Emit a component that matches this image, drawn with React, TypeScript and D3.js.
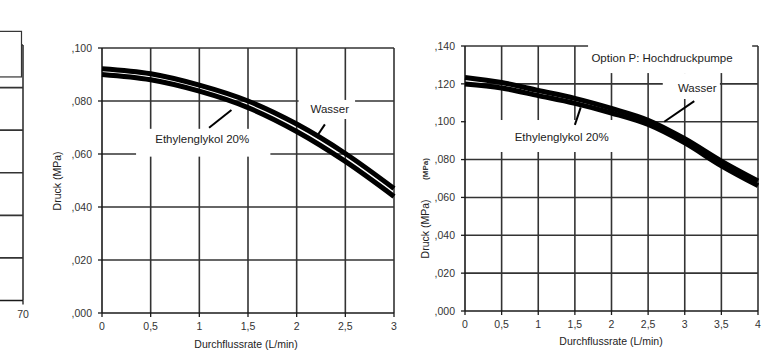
import { useEffect, useRef } from 'react'
import * as d3 from 'd3'

// --- middle chart (standard pump) ---
const flowMid = [0, 0.5, 1, 1.5, 2, 2.5, 3]
const wasserMid = [0.0922, 0.0903, 0.086, 0.08, 0.0713, 0.0602, 0.047]
const glykolMid = [0.09, 0.088, 0.0837, 0.0775, 0.0685, 0.0572, 0.044]
const xTicksMid = [0, 0.5, 1, 1.5, 2, 2.5, 3]
const yTicksMid = [0, 0.02, 0.04, 0.06, 0.08, 0.1]

// --- right chart (option P: high pressure pump) ---
const flowRight = [0, 0.5, 1, 1.5, 2, 2.5, 3, 3.5, 4]
const wasserRight = [0.1234, 0.1207, 0.1165, 0.1123, 0.107, 0.1008, 0.091, 0.0792, 0.0687]
const glykolRight = [0.1199, 0.1178, 0.1138, 0.1097, 0.1046, 0.0985, 0.0888, 0.0767, 0.0662]
const xTicksRight = [0, 0.5, 1, 1.5, 2, 2.5, 3, 3.5, 4]
const yTicksRight = [0, 0.02, 0.04, 0.06, 0.08, 0.1, 0.12, 0.14]

// --- left chart (cut off, only its right edge is visible) ---
const xTicksLeft = [70]
const yTicksLeft = [0, 1, 2, 3, 4, 5, 6]

const GRID = '#333'
const INK = '#1a1a1a'
const FONT = '"Liberation Sans", Arial, sans-serif'

type Box = { x0: number; x1: number; y0: number; y1: number; stroke?: boolean }
type Note = { text: string; x: number; y: number }
type Pointer = { x1: number; y1: number; x2: number; y2: number }

interface Panel {
  left: number
  right: number
  top: number
  bottom: number
  xDomain: [number, number]
  yDomain: [number, number]
  xTicks: number[]
  yTicks: number[]
  xFormat: (v: number) => string
  yFormat: (v: number) => string
  flows: number[]
  series: number[][]
  boxes: Box[]
  notes: Note[]
  pointers: Pointer[]
  xTitle?: { text: string; x: number; y: number }
  yTitle?: { text: string; x: number; y: number }
}

const fmtX = (v: number) => String(v).replace('.', ',')
const fmtY = (v: number) => v.toFixed(3).replace('0.', ',')

const panels: Panel[] = [
  {
    left: -35, right: 23, top: 45, bottom: 300.5,
    xDomain: [60, 70], yDomain: [0, 6],
    xTicks: xTicksLeft, yTicks: yTicksLeft,
    xFormat: v => String(v), yFormat: () => '',
    flows: [], series: [],
    boxes: [{ x0: 60, x1: 69.74, y0: 5.25, y1: 6.32, stroke: true }],
    notes: [], pointers: []
  },
  {
    left: 102, right: 394, top: 48, bottom: 313,
    xDomain: [0, 3], yDomain: [0, 0.1],
    xTicks: xTicksMid, yTicks: yTicksMid,
    xFormat: fmtX, yFormat: fmtY,
    flows: flowMid, series: [wasserMid, glykolMid],
    boxes: [
      { x0: 0.35, x1: 1.73, y0: 0.059, y1: 0.0695 },
      { x0: 2.02, x1: 2.6, y0: 0.0732, y1: 0.0804 }
    ],
    notes: [
      { text: 'Ethylenglykol 20%', x: 1.03, y: 0.0642 },
      { text: 'Wasser', x: 2.34, y: 0.0756 }
    ],
    pointers: [
      { x1: 1.1, y1: 0.0699, x2: 1.33, y2: 0.0766 },
      { x1: 2.29, y1: 0.0712, x2: 2.21, y2: 0.0668 }
    ],
    xTitle: { text: 'Durchflussrate (L/min)', x: 246, y: 348 },
    yTitle: { text: 'Druck (MPa)', x: 61, y: 181 }
  },
  {
    left: 465, right: 758, top: 46, bottom: 311,
    xDomain: [0, 4], yDomain: [0, 0.14],
    xTicks: xTicksRight, yTicks: yTicksRight,
    xFormat: fmtX, yFormat: fmtY,
    flows: flowRight, series: [wasserRight, glykolRight],
    boxes: [
      { x0: 1.68, x1: 3.92, y0: 0.1257, y1: 0.1432 },
      { x0: 2.7, x1: 3.48, y0: 0.112, y1: 0.1257 },
      { x0: 0.01, x1: 2.39, y0: 0.084, y1: 0.1009 }
    ],
    notes: [
      { text: 'Option P: Hochdruckpumpe', x: 2.69, y: 0.1317 },
      { text: 'Wasser', x: 3.17, y: 0.1159 },
      { text: 'Ethylenglykol 20%', x: 1.32, y: 0.0898 }
    ],
    pointers: [
      { x1: 3.13, y1: 0.1109, x2: 2.72, y2: 0.1 },
      { x1: 1.5, y1: 0.0983, x2: 1.58, y2: 0.1076 }
    ],
    xTitle: { text: 'Durchflussrate (L/min)', x: 611, y: 345 },
    yTitle: { text: 'Druck (MPa)', x: 429, y: 229 }
  }
]

function drawPanel(svg: d3.Selection<SVGSVGElement, unknown, null, undefined>, p: Panel) {
  const x = d3.scaleLinear().domain(p.xDomain).range([p.left, p.right])
  const y = d3.scaleLinear().domain(p.yDomain).range([p.bottom, p.top])
  const g = svg.append('g')

  // grid (top and right frame are the last grid lines)
  g.selectAll('.hgrid')
    .data(p.yTicks.slice(1))
    .enter()
    .append('line')
    .attr('x1', x(p.xDomain[0]))
    .attr('x2', x(p.xDomain[1]))
    .attr('y1', d => y(d))
    .attr('y2', d => y(d))
    .attr('stroke', GRID)
    .attr('stroke-width', 1.6)

  g.selectAll('.vgrid')
    .data(p.xTicks.slice(1).length ? p.xTicks.slice(1) : p.xTicks)
    .enter()
    .append('line')
    .attr('x1', d => x(d))
    .attr('x2', d => x(d))
    .attr('y1', y(p.yDomain[0]))
    .attr('y2', y(p.yDomain[1]))
    .attr('stroke', GRID)
    .attr('stroke-width', 1.6)

  // white label backgrounds hide the grid behind the texts
  g.selectAll('.box')
    .data(p.boxes)
    .enter()
    .append('rect')
    .attr('x', d => x(d.x0))
    .attr('width', d => x(d.x1) - x(d.x0))
    .attr('y', d => y(d.y1))
    .attr('height', d => y(d.y0) - y(d.y1))
    .attr('fill', '#fff')
    .attr('stroke', d => (d.stroke ? GRID : 'none'))
    .attr('stroke-width', 1.2)

  // axes
  g.append('line')
    .attr('x1', x(p.xDomain[0])).attr('x2', x(p.xDomain[1]))
    .attr('y1', y(p.yDomain[0])).attr('y2', y(p.yDomain[0]))
    .attr('stroke', INK).attr('stroke-width', 1.6)
  g.append('line')
    .attr('x1', x(p.xDomain[0])).attr('x2', x(p.xDomain[0]))
    .attr('y1', y(p.yDomain[0])).attr('y2', y(p.yDomain[1]))
    .attr('stroke', INK).attr('stroke-width', 1.6)

  g.selectAll('.xtick')
    .data(p.xTicks)
    .enter()
    .append('line')
    .attr('x1', d => x(d)).attr('x2', d => x(d))
    .attr('y1', y(p.yDomain[0])).attr('y2', y(p.yDomain[0]) + 4)
    .attr('stroke', INK).attr('stroke-width', 1.3)

  g.selectAll('.ytick')
    .data(p.yTicks)
    .enter()
    .append('line')
    .attr('x1', x(p.xDomain[0]) - 4).attr('x2', x(p.xDomain[0]))
    .attr('y1', d => y(d)).attr('y2', d => y(d))
    .attr('stroke', INK).attr('stroke-width', 1.3)

  g.selectAll('.xlabel')
    .data(p.xTicks)
    .enter()
    .append('text')
    .attr('x', d => x(d))
    .attr('y', y(p.yDomain[0]) + 17)
    .attr('text-anchor', 'middle')
    .style('font-family', FONT)
    .style('font-size', '10.5px')
    .style('fill', '#333')
    .text(d => p.xFormat(d))

  g.selectAll('.ylabel')
    .data(p.yTicks)
    .enter()
    .append('text')
    .attr('x', x(p.xDomain[0]) - 10)
    .attr('y', d => y(d))
    .attr('dy', '0.35em')
    .attr('text-anchor', 'end')
    .style('font-family', FONT)
    .style('font-size', '10.5px')
    .style('fill', '#333')
    .text(d => p.yFormat(d))

  // pump curves: two thick strokes side by side
  const line = d3.line<number>()
    .x((_, i) => x(p.flows[i]))
    .y(d => y(d))
    .curve(d3.curveMonotoneX)

  g.selectAll('.curve')
    .data(p.series)
    .enter()
    .append('path')
    .attr('d', d => line(d))
    .attr('fill', 'none')
    .attr('stroke', '#000')
    .attr('stroke-width', 5)

  // annotations
  g.selectAll('.pointer')
    .data(p.pointers)
    .enter()
    .append('line')
    .attr('x1', d => x(d.x1)).attr('y1', d => y(d.y1))
    .attr('x2', d => x(d.x2)).attr('y2', d => y(d.y2))
    .attr('stroke', '#000')
    .attr('stroke-width', 2)

  g.selectAll('.note')
    .data(p.notes)
    .enter()
    .append('text')
    .attr('x', d => x(d.x))
    .attr('y', d => y(d.y))
    .attr('text-anchor', 'middle')
    .style('font-family', FONT)
    .style('font-size', '11.5px')
    .style('fill', '#222')
    .text(d => d.text)

  if (p.xTitle) {
    g.append('text')
      .attr('x', p.xTitle.x)
      .attr('y', p.xTitle.y)
      .attr('text-anchor', 'middle')
      .style('font-family', FONT)
      .style('font-size', '10.5px')
      .style('fill', '#222')
      .text(p.xTitle.text)
  }
  if (p.yTitle) {
    g.append('text')
      .attr('transform', `translate(${p.yTitle.x},${p.yTitle.y}) rotate(-90)`)
      .attr('text-anchor', 'middle')
      .style('font-family', FONT)
      .style('font-size', '10.5px')
      .style('fill', '#222')
      .text(p.yTitle.text)
  }
}

export default function App() {
  const svgRef = useRef<SVGSVGElement>(null)

  useEffect(() => {
    if (!svgRef.current) return
    const svg = d3.select(svgRef.current)
    svg.selectAll('*').remove()

    svg.append('rect').attr('width', 782).attr('height', 354).attr('fill', '#fff')
    panels.forEach(p => drawPanel(svg, p))

    // overprinted unit label left of the right chart
    svg.append('text')
      .attr('transform', 'translate(428,169) rotate(-90)')
      .attr('text-anchor', 'middle')
      .style('font-family', FONT)
      .style('font-size', '8px')
      .style('font-weight', 'bold')
      .style('fill', '#333')
      .text('(MPa)')
  }, [])

  return (
    <svg
      ref={svgRef}
      width={782}
      height={354}
      style={{ position: 'absolute', left: 0, top: 0, display: 'block' }}
    />
  )
}
